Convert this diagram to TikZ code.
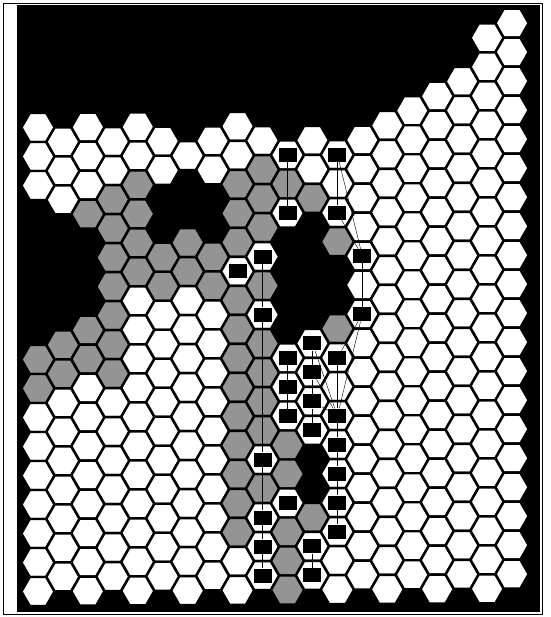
\documentclass[tikz,border=0pt]{standalone}
\usepackage{xcolor}
\definecolor{hexgray}{RGB}{148,148,148}

\begin{document}
\begin{tikzpicture}[x=0.03cm, y=-0.03cm,
  hexcell/.style={draw=black, line width=2.1pt, line join=round},
  robot/.style={fill=black, minimum width=0.54cm, minimum height=0.42cm, inner sep=0pt},
  track/.style={draw=black, line width=0.35pt}
]
  \useasboundingbox (0,0) rectangle (550,617);
  %% page and frame
  \fill[white] (0,0) rectangle (550,617);
  \draw[line width=0.7pt] (3.5,3) rectangle (542.5,614);
  \fill[black] (17,5) rectangle (540,612);

  %% hex map by column (B blocked, W free, G covered, M robot)
  \def\kindB{B}\def\kindG{G}\def\kindM{M}
  \foreach \cx/\js/\cells in {
      0/0/{W,W,W,B,B,B,B,B,G,G,W,W,W,W,W,W,W},
      1/0/{W,W,W,B,B,B,B,G,G,W,W,W,W,W,W,W},
      2/0/{W,W,W,G,B,B,B,G,G,W,W,W,W,W,W,W,W},
      3/0/{W,W,G,G,G,G,G,G,G,W,W,W,W,W,W,W},
      4/0/{W,W,G,G,G,G,W,W,W,W,W,W,W,W,W,W,W},
      5/0/{W,W,B,B,G,G,W,W,W,W,W,W,W,W,W,W},
      6/0/{B,W,B,B,G,G,W,W,W,W,W,W,W,W,W,W,W},
      7/0/{W,W,B,B,G,G,W,W,W,W,W,W,W,W,W,W},
      8/0/{W,W,G,G,G,M,G,G,G,G,G,G,G,G,G,W,W},
      9/0/{W,G,G,G,M,G,M,G,G,G,G,M,G,M,M,M},
      10/0/{B,M,G,M,B,B,B,B,M,M,M,G,G,M,G,G,G},
      11/0/{W,W,G,B,B,B,B,M,M,M,M,B,B,G,M,M},
      12/0/{B,M,W,M,G,B,B,G,M,W,M,M,M,M,M,W,W},
      13/0/{W,W,W,W,M,W,M,W,W,W,W,W,W,W,W,W},
      14/0/{W,W,W,W,W,W,W,W,W,W,W,W,W,W,W,W,W},
      15/-1/{W,W,W,W,W,W,W,W,W,W,W,W,W,W,W,W,W},
      16/-1/{W,W,W,W,W,W,W,W,W,W,W,W,W,W,W,W,W,W},
      17/-2/{W,W,W,W,W,W,W,W,W,W,W,W,W,W,W,W,W,W},
      18/-3/{W,W,W,W,W,W,W,W,W,W,W,W,W,W,W,W,W,W,W,W},
      19/-4/{W,W,W,W,W,W,W,W,W,W,W,W,W,W,W,W,W,W,W,W}}{
    \foreach \kind [count=\k from \js] in \cells {
      \pgfmathsetmacro\hx{38+24.95*\cx}
      \pgfmathsetmacro\hy{127.5+29*\k+14.5*mod(\cx,2)-0.15*\cx}
      \ifx\kind\kindB\else
        \ifx\kind\kindG\def\hexfill{hexgray}\else\def\hexfill{white}\fi
        \draw[hexcell, fill=\hexfill] (\hx,\hy) +(-16.6,0) -- +(-8.3,-14.5) -- +(8.3,-14.5)
          -- +(16.6,0) -- +(8.3,14.5) -- +(-8.3,14.5) -- cycle;
        \ifx\kind\kindM\node[robot] (m\cx-\k) at (\hx,\hy) {};\fi
      \fi
    }
  }

  %% robot tracks
  \draw[track] (m10-1) -- (m10-3);
  \draw[track] (m12-1) -- (m12-3);
  \draw[track] (m12-1) -- (m13-4);
  \draw[track] (m12-3) -- (m13-4);
  \draw[track] (m13-4) -- (m13-6);
  \draw[track] (m9-4) -- (m9-6) -- (m9-11) -- (m9-13) -- (m9-14) -- (m9-15);
  \draw[track] (m13-6) -- (m12-8);
  \draw[track] (m13-6) -- (m12-10);
  \draw[track] (m11-7) -- (m12-10);
  \draw[track] (m11-8) -- (m12-10);
  \draw[track] (m11-9) -- (m12-10);
  \draw[track] (m11-7) -- (m11-8) -- (m11-9) -- (m11-10);
  \draw[track] (m10-8) -- (m10-9) -- (m10-10);
  \draw[track] (m12-8) -- (m12-10) -- (m12-11) -- (m12-12) -- (m12-13) -- (m12-14);
  \draw[track] (m11-14) -- (m11-15);
\end{tikzpicture}
\end{document}
